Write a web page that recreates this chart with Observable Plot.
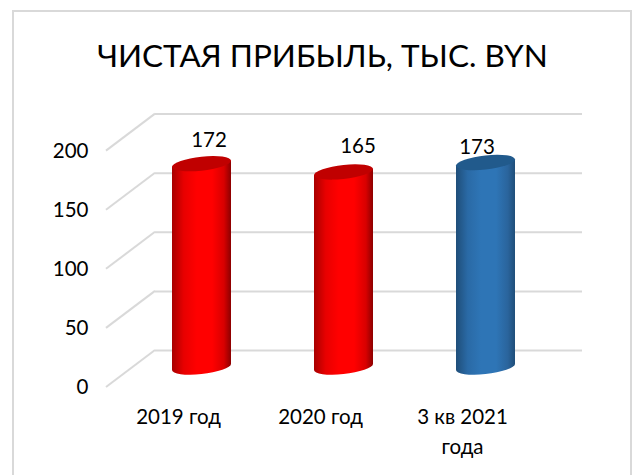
<!DOCTYPE html>
<html lang="ru">
<head>
<meta charset="utf-8">
<script src="https://cdn.jsdelivr.net/npm/d3@7"></script>
<script src="https://cdn.jsdelivr.net/npm/@observablehq/plot@0.6"></script>
<style>
html,body{margin:0;padding:0;background:#fff;overflow:hidden;}
#frame{position:absolute;left:12px;top:10px;width:616px;height:480px;border:2px solid #d9d9d9;background:#fff;}
#title{position:absolute;left:0;top:35px;width:645px;text-align:center;font:31.5px/40px Lato,"Noto Sans",sans-serif;color:#000;}
#chart{position:absolute;left:0;top:90px;}
svg{overflow:visible;}
</style>
</head>
<body>
<div id="frame"></div>
<div id="title">ЧИСТАЯ ПРИБЫЛЬ, ТЫС. BYN</div>
<div id="chart"></div>
<script>
const categories = ["2019 год", "2020 год", "3 кв 2021\nгода"];
const profit = [172, 165, 173];
const tickValues = [0, 50, 100, 150, 200];
const seriesKind = ["red", "red", "blue"];

const palette = {
  red:  {edgeL: "#a80000", mid: "#ff0000", edgeR: "#8c0000", top: "#c00000"},
  blue: {edgeL: "#1f4e79", mid: "#2e75b6", edgeR: "#1f4e79", top: "#215a8c"}
};
const rows = categories.map((c, i) => ({category: c, value: profit[i], kind: seriesKind[i]}));
const labelOffset = [[7, -24], [14, -26], [-9, -16]];
const gridColor = "#d9d9d9";
const tilt = -6;

function gradients() {
  const svg = d3.create("svg:g");
  const defs = svg.append("defs");
  for (const [name, c] of Object.entries(palette)) {
    const g = defs.append("linearGradient").attr("id", "body-" + name);
    [[0, c.edgeL], [0.2, c.mid === "#ff0000" ? "#e80000" : "#2a6aa6"], [0.42, c.mid], [0.68, c.mid],
     [0.88, c.mid === "#ff0000" ? "#d80000" : "#2a649c"], [1, c.edgeR]]
      .forEach(([o, col]) => g.append("stop").attr("offset", o).attr("stop-color", col));
  }
  return svg.node();
}

function sideLines(index, scales) {
  const g = d3.create("svg:g");
  for (const t of tickValues) {
    g.append("line")
      .attr("x1", 106).attr("x2", 155)
      .attr("y1", scales.y(t) + 20).attr("y2", scales.y(t) - 17)
      .attr("stroke", gridColor).attr("stroke-width", 2);
  }
  return g.node();
}

function caps(kind) {
  return (index, scales) => {
    const g = d3.create("svg:g");
    const bw = typeof scales.x.bandwidth === "function" ? scales.x.bandwidth() : scales.x.bandwidth;
    for (const r of rows) {
      const cx = scales.x(r.category) + bw / 2;
      const v = kind === "top" ? r.value : 0;
      const cy = scales.y(v);
      g.append("ellipse")
        .attr("rx", bw / 2).attr("ry", 7)
        .attr("transform", `translate(${cx},${cy}) skewY(${tilt})`)
        .attr("fill", kind === "top" ? palette[r.kind].top : `url(#body-${r.kind})`);
    }
    return g.node();
  };
}

function skewBars(index, scales, values, dimensions, context, next) {
  const g = next(index, scales, values, dimensions, context);
  const y0 = scales.y(0);
  d3.select(g).selectAll("rect").each(function () {
    const x = +this.getAttribute("x") + this.getAttribute("width") / 2;
    this.setAttribute("transform", `translate(${x},${y0}) skewY(${tilt}) translate(${-x},${-y0})`);
  });
  return g;
}

const plot = Plot.plot({
  width: 636,
  height: 385,
  marginLeft: 155,
  marginRight: 54,
  marginTop: 0,
  marginBottom: 70,
  style: {background: "transparent", fontFamily: 'Lato, "Noto Sans", sans-serif', color: "#000"},
  x: {type: "band", domain: categories, range: [130.4, 557], paddingInner: 0.585, paddingOuter: 0.2925, align: 0.5, label: null},
  y: {domain: [0, 200], range: [277, 40.6], label: null},
  marks: [
    gradients,
    Plot.ruleY(tickValues, {y: d => d, dy: -17, stroke: gridColor, strokeWidth: 2}),
    sideLines,
    caps("bottom"),
    Plot.barY(rows, {x: "category", y: "value", fill: d => `url(#body-${d.kind})`, render: skewBars}),
    caps("top"),
    Plot.axisY({
      ticks: tickValues, tickSize: 0, tickPadding: 67, dy: 20, fontSize: 20.5, label: null,
      fill: "#000"
    }),
    Plot.axisX({
      tickSize: 0, tickPadding: -2, dx: -23.5, fontSize: 20.5, label: null, lineHeight: 1.44,
      tickFormat: d => d, fill: "#000"
    }),
    ...rows.map((r, i) => Plot.text([r], {
      x: "category", y: "value", text: d => String(d.value),
      dx: labelOffset[i][0], dy: labelOffset[i][1], fontSize: 20.5, fill: "#000"
    }))
  ]
});
document.getElementById("chart").append(plot);
</script>
</body>
</html>
